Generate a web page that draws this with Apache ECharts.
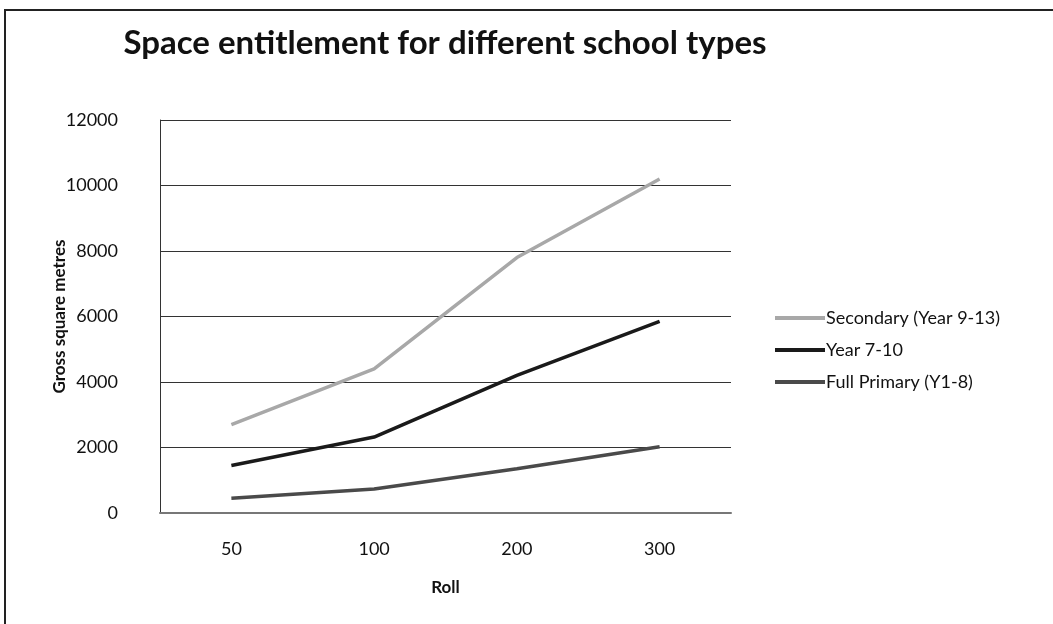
<!DOCTYPE html>
<html>
<head>
<meta charset="utf-8">
<style>
  html, body { margin: 0; padding: 0; background: #fff; }
  #chart { width: 1053px; height: 624px; }
</style>
<script src="https://cdn.jsdelivr.net/npm/echarts@6/dist/echarts.min.js"></script>
</head>
<body>
<div id="chart"></div>
<script>
// Roll sizes on the category axis
const rolls = ['50', '100', '200', '300'];
// Gross square metres per school type
const secondary = [2700, 4400, 7800, 10200];
const year7to10 = [1450, 2320, 4200, 5850];
const fullPrimary = [450, 730, 1350, 2020];
const seriesNames = ['Secondary (Year 9-13)', 'Year 7-10', 'Full Primary (Y1-8)'];

const font = 'Lato, "Open Sans", sans-serif';
const chart = echarts.init(document.getElementById('chart'), null, { renderer: 'canvas' });

function lineSeries(name, data, color) {
  return {
    name: name,
    type: 'line',
    data: data,
    symbol: 'none',
    smooth: false,
    lineStyle: { color: color, width: 3.5 },
    itemStyle: { color: color }
  };
}

chart.setOption({
  backgroundColor: '#fff',
  animation: false,
  title: {
    text: 'Space entitlement for different school types',
    left: 440,
    top: 22,
    textAlign: 'center',
    textStyle: { fontFamily: font, fontSize: 33, fontWeight: 'bold', color: '#111' }
  },
  graphic: [{
    type: 'rect',
    shape: { x: 5, y: 10, width: 1060, height: 640 },
    style: { fill: 'none', stroke: '#222', lineWidth: 2 },
    silent: true
  }],
  legend: {
    orient: 'vertical',
    left: 770,
    top: 304,
    itemWidth: 50,
    itemHeight: 4,
    itemGap: 14,
    icon: 'rect',
    textStyle: { fontFamily: font, fontSize: 18, color: '#111', padding: [0, 0, 0, -4] },
    data: seriesNames
  },
  grid: { left: 160, right: 322, top: 120, bottom: 111, containLabel: false },
  xAxis: {
    type: 'category',
    data: rolls,
    boundaryGap: true,
    name: 'Roll',
    nameLocation: 'middle',
    nameGap: 66,
    nameMoveOverlap: false,
    nameTextStyle: { fontFamily: font, fontSize: 17, fontWeight: 'bold', color: '#111' },
    axisLine: { lineStyle: { color: '#777', width: 2 } },
    axisTick: { show: false },
    axisLabel: { fontFamily: font, fontSize: 18, color: '#111', margin: 27 }
  },
  yAxis: {
    type: 'value',
    min: 0,
    max: 12000,
    interval: 2000,
    name: 'Gross square metres',
    nameLocation: 'middle',
    nameGap: 92,
    nameMoveOverlap: false,
    nameTextStyle: { fontFamily: font, fontSize: 17, fontWeight: 'bold', color: '#111' },
    axisLine: { show: true, lineStyle: { color: '#333', width: 1 } },
    axisTick: { show: false },
    axisLabel: { fontFamily: font, fontSize: 18, color: '#111', margin: 42, formatter: v => String(v) },
    splitLine: { lineStyle: { color: '#333', width: 1.2 } }
  },
  series: [
    lineSeries(seriesNames[0], secondary, '#a8a8a8'),
    lineSeries(seriesNames[1], year7to10, '#1a1a1a'),
    lineSeries(seriesNames[2], fullPrimary, '#4a4a4a')
  ]
});
</script>
</body>
</html>
